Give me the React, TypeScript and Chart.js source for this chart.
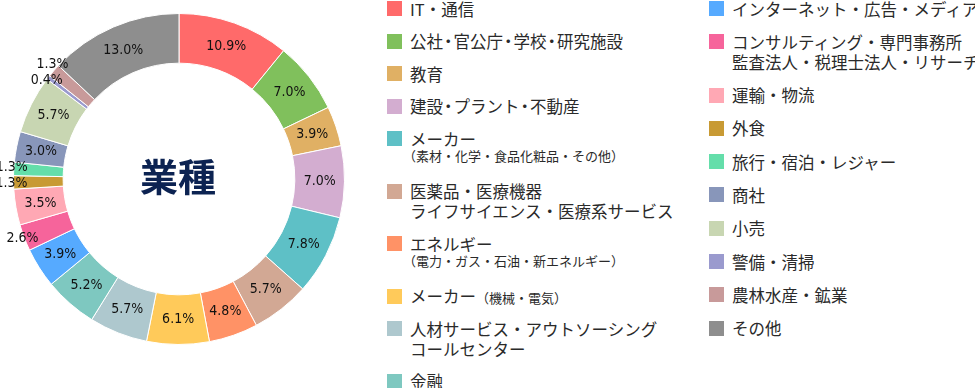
import React, { useEffect, useRef } from "react";
import { Chart, registerables } from "chart.js";

Chart.register(...registerables);

// ---- data ----
const categories = [
  "IT・通信",
  "公社・官公庁・学校・研究施設",
  "教育",
  "建設・プラント・不動産",
  "メーカー（素材・化学・食品化粧品・その他）",
  "医薬品・医療機器 ライフサイエンス・医療系サービス",
  "エネルギー（電力・ガス・石油・新エネルギー）",
  "メーカー（機械・電気）",
  "人材サービス・アウトソーシング コールセンター",
  "金融",
  "インターネット・広告・メディア",
  "コンサルティング・専門事務所 監査法人・税理士法人・リサーチ",
  "運輸・物流",
  "外食",
  "旅行・宿泊・レジャー",
  "商社",
  "小売",
  "警備・清掃",
  "農林水産・鉱業",
  "その他",
];

const values = [10.9, 7.0, 3.9, 7.0, 7.8, 5.7, 4.8, 6.1, 5.7, 5.2, 3.9, 2.6, 3.5, 1.3, 1.3, 3.0, 5.7, 0.4, 1.3, 13.0];

const colors = [
  "#FF6A6A", "#80C05C", "#E0B064", "#D3ADD0", "#5EC0C6",
  "#D2A894", "#FF9266", "#FFCA5A", "#AEC8CE", "#7EC8C0",
  "#56AAFF", "#F6649B", "#FFA8B4", "#C89A34", "#64DEAA",
  "#8896BA", "#C8D6B2", "#9A9ACE", "#C89A9A", "#8E8E8E",
];

const valueLabels = values.map((v) => v.toFixed(1) + "%");

// legend text: main lines, sub line (own line) and inline sub text
const legendMain: string[][] = [
  ["IT・通信"],
  ["公社・官公庁・学校・研究施設"],
  ["教育"],
  ["建設・プラント・不動産"],
  ["メーカー"],
  ["医薬品・医療機器", "ライフサイエンス・医療系サービス"],
  ["エネルギー"],
  ["メーカー"],
  ["人材サービス・アウトソーシング", "コールセンター"],
  ["金融"],
  ["インターネット・広告・メディア"],
  ["コンサルティング・専門事務所", "監査法人・税理士法人・リサーチ"],
  ["運輸・物流"],
  ["外食"],
  ["旅行・宿泊・レジャー"],
  ["商社"],
  ["小売"],
  ["警備・清掃"],
  ["農林水産・鉱業"],
  ["その他"],
];
const legendSubLine = ["", "", "", "", "（素材・化学・食品化粧品・その他）", "", "（電力・ガス・石油・新エネルギー）", "", "", "", "", "", "", "", "", "", "", "", "", ""];
const legendSubInline = ["", "", "", "", "", "", "", "（機械・電気）", "", "", "", "", "", "", "", "", "", "", "", ""];
const narrowDotItems = [1, 3];
const centerTitle = "業種";

const CJK = "'Noto Sans CJK JP', 'Noto Sans', sans-serif";

function renderText(s: string, narrow: boolean) {
  if (!narrow) return s;
  return s.split("").map((ch, i) =>
    ch === "・" ? (
      <span key={i} style={{ margin: "0 -3px" }}>{ch}</span>
    ) : (
      <React.Fragment key={i}>{ch}</React.Fragment>
    )
  );
}

const sliceLabelPlugin = {
  id: "sliceLabels",
  afterDatasetsDraw(chart: any) {
    const ctx = chart.ctx as CanvasRenderingContext2D;
    const meta = chart.getDatasetMeta(0);
    const data = chart.data.datasets[0].data as number[];
    const items = meta.data.map((arc: any, i: number) => {
      const p = arc.getProps(["x", "y", "startAngle", "endAngle", "innerRadius", "outerRadius"], true);
      const mid = (p.startAngle + p.endAngle) / 2;
      const small = data[i] < 3;
      const r = small ? p.outerRadius + 2 : (p.innerRadius + p.outerRadius) / 2;
      return { x: p.x + Math.cos(mid) * r, y: p.y + Math.sin(mid) * r, small, text: valueLabels[i] };
    });
    const smalls = items.filter((it: any) => it.small).sort((a: any, b: any) => a.y - b.y);
    const MIN_GAP = 16;
    for (let iter = 0; iter < 20; iter++) {
      for (let k = 1; k < smalls.length; k++) {
        const a = smalls[k - 1];
        const b = smalls[k];
        const gap = b.y - a.y;
        if (gap < MIN_GAP) {
          const d = (MIN_GAP - gap) / 2;
          a.y -= d;
          b.y += d;
        }
      }
    }
    ctx.save();
    ctx.font = "14px 'DejaVu Sans Condensed', 'DejaVu Sans'";
    ctx.fillStyle = "#111";
    ctx.textAlign = "center";
    ctx.textBaseline = "middle";
    items.forEach((it: any) => ctx.fillText(it.text, it.x, it.y));
    // center title
    const first = meta.data[0];
    ctx.font = `bold 38px ${CJK}`;
    ctx.fillStyle = "#0C2352";
    ctx.fillText(centerTitle, first.x - 1, first.y - 2);
    ctx.restore();
  },
};

function LegendItem({ i }: { i: number }) {
  const narrow = narrowDotItems.includes(i);
  return (
    <div style={{ display: "flex", alignItems: "flex-start" }}>
      <div style={{ width: 15, height: 15, marginTop: 2.5, marginRight: 8, background: colors[i], flex: "none" }} />
      <div>
        {legendMain[i].map((line, k) => (
          <div key={k} style={{ height: 20, lineHeight: "20px", fontSize: 16.5, whiteSpace: "nowrap" }}>
            {renderText(line, narrow)}
            {k === 0 && legendSubInline[i] ? <span style={{ fontSize: 13 }}>{legendSubInline[i]}</span> : null}
          </div>
        ))}
        {legendSubLine[i] ? (
          <div style={{ height: 16, lineHeight: "16px", fontSize: 13, marginTop: -1, marginBottom: 5, marginLeft: -7, whiteSpace: "nowrap" }}>
            {legendSubLine[i]}
          </div>
        ) : null}
      </div>
    </div>
  );
}

export default function App() {
  const canvasRef = useRef<HTMLCanvasElement | null>(null);

  useEffect(() => {
    if (!canvasRef.current) return;
    const chart = new Chart(canvasRef.current, {
      type: "doughnut",
      data: {
        labels: categories,
        datasets: [
          {
            data: values,
            backgroundColor: colors,
            borderColor: "#ffffff",
            borderWidth: 1,
          },
        ],
      },
      options: {
        responsive: false,
        maintainAspectRatio: false,
        animation: false,
        cutout: "70%",
        layout: { padding: 13 },
        plugins: {
          legend: { display: false },
          tooltip: { enabled: false },
        },
      },
      plugins: [sliceLabelPlugin],
    });
    return () => chart.destroy();
  }, []);

  const col1 = [0, 1, 2, 3, 4, 5, 6, 7, 8, 9];
  const col2 = [10, 11, 12, 13, 14, 15, 16, 17, 18, 19];

  return (
    <div style={{ position: "absolute", left: 0, top: 0, width: 975, height: 388, overflow: "hidden", fontFamily: CJK, color: "#2a2a2a", background: "#fff" }}>
      <canvas ref={canvasRef} width={358} height={358} style={{ position: "absolute", left: 0, top: 0, width: 358, height: 358 }} />
      <div style={{ position: "absolute", left: 387, top: -1.5, display: "flex", flexDirection: "column", gap: 12.5 }}>
        {col1.map((i) => <LegendItem key={i} i={i} />)}
      </div>
      <div style={{ position: "absolute", left: 709, top: -1.5, display: "flex", flexDirection: "column", gap: 13.3 }}>
        {col2.map((i) => <LegendItem key={i} i={i} />)}
      </div>
    </div>
  );
}
